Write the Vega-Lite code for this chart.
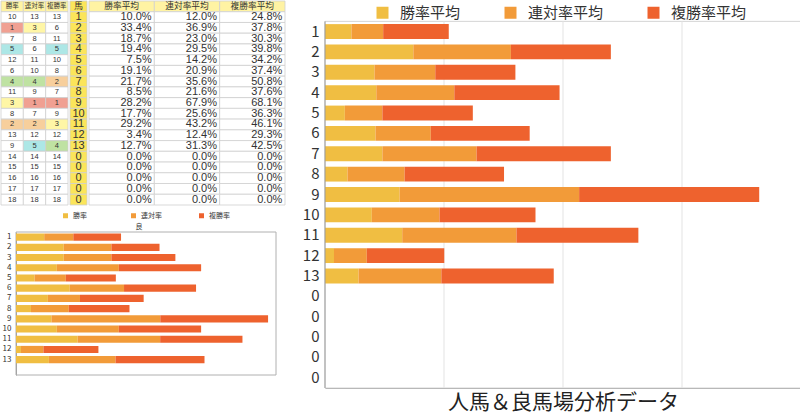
{
  "$schema": "https://vega.github.io/schema/vega-lite/v6.json",
  "padding": 0,
  "background": "#ffffff",
  "config": {"font": "Noto Sans CJK JP", "view": {"stroke": null}},
  "datasets": {
    "tbl": [
      {"row": 1, "勝率": 10, "連対率": 13, "複勝率": 13, "馬": 1, "勝率平均": 0.100, "連対率平均": 0.120, "複勝率平均": 0.248},
      {"row": 2, "勝率": 1, "連対率": 3, "複勝率": 6, "馬": 2, "勝率平均": 0.334, "連対率平均": 0.369, "複勝率平均": 0.378},
      {"row": 3, "勝率": 7, "連対率": 8, "複勝率": 11, "馬": 3, "勝率平均": 0.187, "連対率平均": 0.230, "複勝率平均": 0.303},
      {"row": 4, "勝率": 5, "連対率": 6, "複勝率": 5, "馬": 4, "勝率平均": 0.194, "連対率平均": 0.295, "複勝率平均": 0.398},
      {"row": 5, "勝率": 12, "連対率": 11, "複勝率": 10, "馬": 5, "勝率平均": 0.075, "連対率平均": 0.142, "複勝率平均": 0.342},
      {"row": 6, "勝率": 6, "連対率": 10, "複勝率": 8, "馬": 6, "勝率平均": 0.191, "連対率平均": 0.209, "複勝率平均": 0.374},
      {"row": 7, "勝率": 4, "連対率": 4, "複勝率": 2, "馬": 7, "勝率平均": 0.217, "連対率平均": 0.356, "複勝率平均": 0.508},
      {"row": 8, "勝率": 11, "連対率": 9, "複勝率": 7, "馬": 8, "勝率平均": 0.085, "連対率平均": 0.216, "複勝率平均": 0.376},
      {"row": 9, "勝率": 3, "連対率": 1, "複勝率": 1, "馬": 9, "勝率平均": 0.282, "連対率平均": 0.679, "複勝率平均": 0.681},
      {"row": 10, "勝率": 8, "連対率": 7, "複勝率": 9, "馬": 10, "勝率平均": 0.177, "連対率平均": 0.256, "複勝率平均": 0.363},
      {"row": 11, "勝率": 2, "連対率": 2, "複勝率": 3, "馬": 11, "勝率平均": 0.292, "連対率平均": 0.432, "複勝率平均": 0.461},
      {"row": 12, "勝率": 13, "連対率": 12, "複勝率": 12, "馬": 12, "勝率平均": 0.034, "連対率平均": 0.124, "複勝率平均": 0.293},
      {"row": 13, "勝率": 9, "連対率": 5, "複勝率": 4, "馬": 13, "勝率平均": 0.127, "連対率平均": 0.313, "複勝率平均": 0.425},
      {"row": 14, "勝率": 14, "連対率": 14, "複勝率": 14, "馬": 0, "勝率平均": 0, "連対率平均": 0, "複勝率平均": 0},
      {"row": 15, "勝率": 15, "連対率": 15, "複勝率": 15, "馬": 0, "勝率平均": 0, "連対率平均": 0, "複勝率平均": 0},
      {"row": 16, "勝率": 16, "連対率": 16, "複勝率": 16, "馬": 0, "勝率平均": 0, "連対率平均": 0, "複勝率平均": 0},
      {"row": 17, "勝率": 17, "連対率": 17, "複勝率": 17, "馬": 0, "勝率平均": 0, "連対率平均": 0, "複勝率平均": 0},
      {"row": 18, "勝率": 18, "連対率": 18, "複勝率": 18, "馬": 0, "勝率平均": 0, "連対率平均": 0, "複勝率平均": 0}
    ],
    "ryo": [
      {"row": 1, "勝率": 21.7, "連対率": 22.4, "複勝率": 36.7},
      {"row": 2, "勝率": 36.7, "連対率": 36.7, "複勝率": 37.0},
      {"row": 3, "勝率": 36.7, "連対率": 36.7, "複勝率": 49.2},
      {"row": 4, "勝率": 31.4, "連対率": 47.7, "複勝率": 63.3},
      {"row": 5, "勝率": 14.3, "連対率": 24.0, "複勝率": 38.5},
      {"row": 6, "勝率": 41.3, "連対率": 41.8, "複勝率": 55.4},
      {"row": 7, "勝率": 24.5, "連対率": 24.7, "複勝率": 49.0},
      {"row": 8, "勝率": 11.5, "連対率": 29.1, "複勝率": 46.7},
      {"row": 9, "勝率": 27.3, "連対率": 83.7, "複勝率": 82.9},
      {"row": 10, "勝率": 31.4, "連対率": 47.7, "複勝率": 63.3},
      {"row": 11, "勝率": 47.4, "連対率": 63.5, "複勝率": 63.3},
      {"row": 12, "勝率": 3.8, "連対率": 17.3, "複勝率": 42.3},
      {"row": 13, "勝率": 25.3, "連対率": 51.3, "複勝率": 68.4}
    ],
    "hdrRank": [{"col": "勝率"}, {"col": "連対率"}, {"col": "複勝率"}],
    "hdrAvg": [{"col": "勝率平均"}, {"col": "連対率平均"}, {"col": "複勝率平均"}],
    "hdrHorse": [{"col": "馬"}]
  },
  "resolve": {"scale": {"color": "independent", "fill": "independent", "x": "independent", "y": "independent"}, "legend": {"color": "independent", "fill": "independent"}},
  "spacing": 16,
  "hconcat": [
    {
      "spacing": 6,
      "resolve": {"scale": {"color": "independent", "fill": "independent", "x": "independent", "y": "independent"}, "legend": {"color": "independent", "fill": "independent"}},
      "vconcat": [
        {
          "spacing": 0,
          "resolve": {"scale": {"color": "independent", "fill": "independent", "x": "independent", "y": "independent"}, "legend": {"color": "independent", "fill": "independent"}},
          "hconcat": [
            {
              "width": 67, "height": 204,
              "layer": [
                {
                  "data": {"name": "hdrRank"},
                  "mark": {"type": "rect", "fill": "#fff3a3", "stroke": "#cfcfcf", "strokeWidth": 0.8},
                  "encoding": {
                    "x": {"field": "col", "type": "nominal", "sort": ["勝率", "連対率", "複勝率"], "scale": {"domain": ["勝率", "連対率", "複勝率"], "paddingInner": 0, "paddingOuter": 0}, "axis": null},
                    "y": {"datum": 0, "type": "ordinal", "scale": {"domain": [0,1,2,3,4,5,6,7,8,9,10,11,12,13,14,15,16,17,18], "paddingInner": 0, "paddingOuter": 0}, "axis": null}
                  }
                },
                {
                  "data": {"name": "hdrRank"},
                  "mark": {"type": "text", "fontSize": 6.5, "color": "#333333"},
                  "encoding": {
                    "x": {"field": "col", "type": "nominal", "sort": ["勝率", "連対率", "複勝率"], "axis": null},
                    "y": {"datum": 0, "type": "ordinal", "axis": null},
                    "text": {"field": "col"}
                  }
                },
                {
                  "data": {"name": "tbl"},
                  "transform": [{"fold": ["勝率", "連対率", "複勝率"], "as": ["col", "rank"]}],
                  "mark": {"type": "rect", "stroke": "#cfcfcf", "strokeWidth": 0.8},
                  "encoding": {
                    "x": {"field": "col", "type": "nominal", "sort": ["勝率", "連対率", "複勝率"], "axis": null},
                    "y": {"field": "row", "type": "ordinal", "axis": null},
                    "fill": {"condition": {"test": "datum.rank <= 5", "field": "rank", "type": "ordinal", "scale": {"domain": [1,2,3,4,5], "range": ["#f0a092", "#f7cf9c", "#fff6a6", "#bfe2a2", "#ade7e6"]}, "legend": null}, "value": "#ffffff"}
                  }
                },
                {
                  "data": {"name": "tbl"},
                  "transform": [{"fold": ["勝率", "連対率", "複勝率"], "as": ["col", "rank"]}],
                  "mark": {"type": "text", "fontSize": 7.5, "color": "#333333", "font": "Liberation Sans"},
                  "encoding": {
                    "x": {"field": "col", "type": "nominal", "sort": ["勝率", "連対率", "複勝率"], "axis": null},
                    "y": {"field": "row", "type": "ordinal", "axis": null},
                    "text": {"field": "rank", "type": "quantitative"},
                    "fontWeight": {"condition": {"test": "datum.rank <= 5", "value": "bold"}, "value": "normal"}
                  }
                }
              ]
            },
            {
              "width": 17, "height": 204,
              "layer": [
                {
                  "data": {"name": "hdrHorse"},
                  "mark": {"type": "rect", "fill": "#fbe55a", "stroke": "#cfcfcf", "strokeWidth": 0.8},
                  "encoding": {
                    "x": {"field": "col", "type": "nominal", "scale": {"domain": ["馬"], "paddingInner": 0, "paddingOuter": 0}, "axis": null},
                    "y": {"datum": 0, "type": "ordinal", "scale": {"domain": [0,1,2,3,4,5,6,7,8,9,10,11,12,13,14,15,16,17,18], "paddingInner": 0, "paddingOuter": 0}, "axis": null}
                  }
                },
                {
                  "data": {"name": "hdrHorse"},
                  "mark": {"type": "text", "fontSize": 9, "color": "#333333"},
                  "encoding": {
                    "x": {"field": "col", "type": "nominal", "axis": null},
                    "y": {"datum": 0, "type": "ordinal", "axis": null},
                    "text": {"field": "col"}
                  }
                },
                {
                  "data": {"name": "tbl"},
                  "mark": {"type": "rect", "fill": "#fbe55a", "stroke": "#cfcfcf", "strokeWidth": 0.8},
                  "encoding": {
                    "x": {"datum": "馬", "type": "nominal", "axis": null},
                    "y": {"field": "row", "type": "ordinal", "axis": null}
                  }
                },
                {
                  "data": {"name": "tbl"},
                  "mark": {"type": "text", "fontSize": 11, "color": "#333333", "font": "Liberation Sans"},
                  "encoding": {
                    "x": {"datum": "馬", "type": "nominal", "axis": null},
                    "y": {"field": "row", "type": "ordinal", "axis": null},
                    "text": {"field": "馬", "type": "quantitative"}
                  }
                }
              ]
            },
            {
              "width": 196, "height": 204,
              "layer": [
                {
                  "data": {"name": "hdrAvg"},
                  "mark": {"type": "rect", "fill": "#fff3a3", "stroke": "#cfcfcf", "strokeWidth": 0.8},
                  "encoding": {
                    "x": {"field": "col", "type": "nominal", "sort": ["勝率平均", "連対率平均", "複勝率平均"], "scale": {"domain": ["勝率平均", "連対率平均", "複勝率平均"], "paddingInner": 0, "paddingOuter": 0}, "axis": null},
                    "y": {"datum": 0, "type": "ordinal", "scale": {"domain": [0,1,2,3,4,5,6,7,8,9,10,11,12,13,14,15,16,17,18], "paddingInner": 0, "paddingOuter": 0}, "axis": null}
                  }
                },
                {
                  "data": {"name": "hdrAvg"},
                  "mark": {"type": "text", "fontSize": 8.7, "color": "#333333"},
                  "encoding": {
                    "x": {"field": "col", "type": "nominal", "sort": ["勝率平均", "連対率平均", "複勝率平均"], "axis": null},
                    "y": {"datum": 0, "type": "ordinal", "axis": null},
                    "text": {"field": "col"}
                  }
                },
                {
                  "data": {"name": "tbl"},
                  "transform": [{"fold": ["勝率平均", "連対率平均", "複勝率平均"], "as": ["col", "pct"]}],
                  "mark": {"type": "rect", "fill": "#ffffff", "stroke": "#cfcfcf", "strokeWidth": 0.8},
                  "encoding": {
                    "x": {"field": "col", "type": "nominal", "sort": ["勝率平均", "連対率平均", "複勝率平均"], "axis": null},
                    "y": {"field": "row", "type": "ordinal", "axis": null}
                  }
                },
                {
                  "data": {"name": "tbl"},
                  "transform": [{"fold": ["勝率平均", "連対率平均", "複勝率平均"], "as": ["col", "pct"]}],
                  "mark": {"type": "text", "fontSize": 11, "color": "#333333", "align": "right", "dx": 30, "font": "Liberation Sans"},
                  "encoding": {
                    "x": {"field": "col", "type": "nominal", "sort": ["勝率平均", "連対率平均", "複勝率平均"], "axis": null},
                    "y": {"field": "row", "type": "ordinal", "axis": null},
                    "text": {"field": "pct", "type": "quantitative", "format": ".1%"}
                  }
                }
              ]
            }
          ]
        },
        {
          "width": 275, "height": 143,
          "resolve": {"scale": {"y": "independent"}},
          "layer": [
            {
              "data": {"values": [{}]},
              "mark": {"type": "rect", "filled": false, "stroke": "#b0b0b0", "strokeWidth": 1},
              "encoding": {
                "x": {"datum": 0, "type": "quantitative", "scale": {"domain": [-11.54, 200], "nice": false, "zero": false},
                  "axis": {"orient": "top", "title": "良", "titleFontSize": 7, "titleFontWeight": "normal", "titleColor": "#333333", "titlePadding": 3, "labels": false, "ticks": false, "domain": false, "values": [50, 100, 150], "gridColor": "#e3e3e3"}},
                "x2": {"datum": 200},
                "y": {"datum": 0, "type": "quantitative", "scale": {"domain": [0, 1], "nice": false, "zero": false}, "axis": null},
                "y2": {"datum": 1}
              }
            },
            {
              "data": {"name": "ryo"},
              "transform": [
                {"fold": ["勝率", "連対率", "複勝率"], "as": ["series", "v"]},
                {"calculate": "indexof(['勝率', '連対率', '複勝率'], datum.series)", "as": "k"}
              ],
              "mark": {"type": "bar"},
              "encoding": {
                "y": {"field": "row", "type": "ordinal", "scale": {"domain": [1,2,3,4,5,6,7,8,9,10,11,12,13,14], "paddingInner": 0.3, "paddingOuter": 0.15},
                  "axis": {"title": null, "offset": -15, "labelExpr": "datum.value == 14 ? '' : datum.label", "labelFontSize": 8, "labelColor": "#333333", "ticks": false, "labelPadding": 5, "domainColor": "#999999"}},
                "x": {"field": "v", "type": "quantitative", "stack": "zero", "scale": {"domain": [-11.54, 200], "nice": false, "zero": false}},
                "order": {"field": "k", "type": "quantitative"},
                "color": {"field": "series", "type": "nominal", "sort": ["勝率", "連対率", "複勝率"],
                  "scale": {"domain": ["勝率", "連対率", "複勝率"], "range": ["#f0be42", "#f29b39", "#ee622e"]},
                  "legend": {"orient": "none", "legendX": 61, "legendY": -20, "direction": "horizontal", "title": null, "symbolType": "square", "symbolSize": 25, "symbolStrokeWidth": 0, "labelFontSize": 7, "labelColor": "#333333", "labelOffset": 4, "columnPadding": 36, "gridAlign": "all"}}
              }
            }
          ]
        }
      ]
    },
    {
      "width": 476, "height": 387,
      "resolve": {"scale": {"y": "independent"}},
      "layer": [
        {
          "data": {"values": [{}]},
          "mark": {"type": "rect", "filled": false, "stroke": "#d5d5d5", "strokeWidth": 1},
          "encoding": {
            "x": {"datum": 0, "type": "quantitative", "scale": {"domain": [0, 1.8], "nice": false},
              "axis": {"title": "人馬＆良馬場分析データ", "titleFontSize": 21, "titleFontWeight": "normal", "titleColor": "#222222", "titlePadding": 3, "labels": false, "ticks": false, "grid": false, "domainColor": "#9a9a9a"}},
            "x2": {"datum": 1.8},
            "y": {"datum": 1, "type": "quantitative", "scale": {"domain": [0, 19], "reverse": true, "nice": false, "zero": false}, "axis": null},
            "y2": {"datum": 19}
          }
        },
        {
          "data": {"values": [{}]},
          "mark": {"type": "rule", "stroke": "#e3e3e3", "strokeWidth": 1},
          "encoding": {
            "x": {"datum": 0.45, "type": "quantitative", "scale": {"domain": [0, 1.8], "nice": false}},
            "y": {"datum": 1, "type": "quantitative", "scale": {"domain": [0, 19], "reverse": true, "nice": false, "zero": false}, "axis": null},
            "y2": {"datum": 19}
          }
        },
        {
          "data": {"values": [{}]},
          "mark": {"type": "rule", "stroke": "#e3e3e3", "strokeWidth": 1},
          "encoding": {
            "x": {"datum": 0.9, "type": "quantitative", "scale": {"domain": [0, 1.8], "nice": false}},
            "y": {"datum": 1, "type": "quantitative", "scale": {"domain": [0, 19], "reverse": true, "nice": false, "zero": false}, "axis": null},
            "y2": {"datum": 19}
          }
        },
        {
          "data": {"values": [{}]},
          "mark": {"type": "rule", "stroke": "#e3e3e3", "strokeWidth": 1},
          "encoding": {
            "x": {"datum": 1.35, "type": "quantitative", "scale": {"domain": [0, 1.8], "nice": false}},
            "y": {"datum": 1, "type": "quantitative", "scale": {"domain": [0, 19], "reverse": true, "nice": false, "zero": false}, "axis": null},
            "y2": {"datum": 19}
          }
        },
        {
          "data": {"name": "tbl"},
          "transform": [
            {"fold": ["勝率平均", "連対率平均", "複勝率平均"], "as": ["metric", "value"]},
            {"calculate": "indexof(['勝率平均', '連対率平均', '複勝率平均'], datum.metric)", "as": "k"}
          ],
          "mark": {"type": "bar"},
          "encoding": {
            "y": {"field": "row", "type": "ordinal", "scale": {"domain": [0,1,2,3,4,5,6,7,8,9,10,11,12,13,14,15,16,17,18], "paddingInner": 0.27, "paddingOuter": 0.135},
              "axis": {"title": null, "labelExpr": "datum.value == 0 ? '' : datum.value > 13 ? '0' : datum.label", "labelFontSize": 15, "labelColor": "#333333", "ticks": false, "labelPadding": 6, "domain": false}},
            "x": {"field": "value", "type": "quantitative", "stack": "zero", "scale": {"domain": [0, 1.8], "nice": false}},
            "order": {"field": "k", "type": "quantitative"},
            "color": {"field": "metric", "type": "nominal", "sort": ["勝率平均", "連対率平均", "複勝率平均"],
              "scale": {"domain": ["勝率平均", "連対率平均", "複勝率平均"], "range": ["#f0be42", "#f29b39", "#ee622e"]},
              "legend": {"orient": "none", "legendX": 50, "legendY": 4, "direction": "horizontal", "title": null, "symbolType": "square", "symbolSize": 144, "symbolStrokeWidth": 0, "labelFontSize": 15, "labelColor": "#333333", "labelOffset": 10, "columnPadding": 42}}
          }
        },
        {
          "data": {"values": [{}]},
          "mark": {"type": "rule", "stroke": "#9a9a9a", "strokeWidth": 1},
          "encoding": {
            "x": {"datum": 0, "type": "quantitative", "scale": {"domain": [0, 1.8], "nice": false}},
            "y": {"datum": 1, "type": "quantitative", "scale": {"domain": [0, 19], "reverse": true, "nice": false, "zero": false}, "axis": null},
            "y2": {"datum": 19}
          }
        }
      ]
    }
  ]
}
